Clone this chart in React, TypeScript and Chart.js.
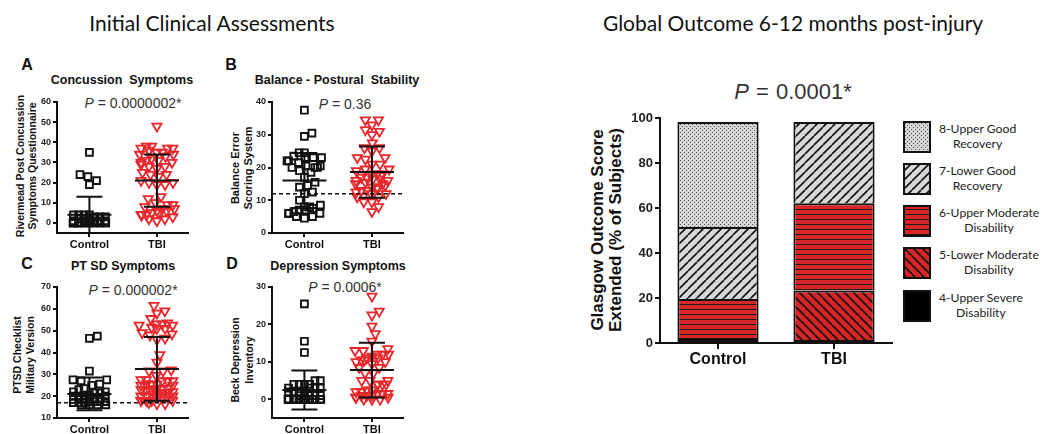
import React, { useEffect, useRef } from 'react';
import { Chart, registerables } from 'chart.js';
Chart.register(...registerables);

// ---------- DATA ----------
const groups = ['Control', 'TBI'];

// A: Concussion symptoms (Rivermead)
const concussionControl = [35, 24, 23, 21, 19, 4, 4, 4, 4, 3, 3, 3, 2, 2, 2, 1, 1, 1, 1, 1, 1, 0, 0, 0, 0, 0, 0, 0, 0, 0, 0, 0, 0, 0, 0];
const concussionTBI = [48, 38, 38, 37, 37, 37, 36, 35, 35, 34, 34, 33, 32, 31, 31, 30, 30, 29, 28, 28, 27, 25, 24, 24, 23, 21, 20, 20, 19, 19, 13, 12, 10, 9, 9, 8, 7, 7, 6, 6, 5, 5, 4, 4, 4, 3, 2, 2, 1];
const concussionMean = [4, 21];
const concussionSD = [9, 13];
const concussionTicks = [0, 10, 20, 30, 40, 50, 60];

// B: Balance error scoring system
const balanceControl = [37.5, 30.5, 29.5, 24.5, 24.5, 23.5, 23, 23, 23, 22, 22, 21.5, 20.5, 20.5, 20, 20, 20, 19, 18.5, 17, 15.5, 14.5, 14, 12.5, 12, 10, 8.5, 8, 8, 7.5, 7, 7, 6.5, 6, 6, 6, 5, 5, 4.5];
const balanceTBI = [34.5, 34.5, 33, 31.5, 31, 30, 27.5, 26, 26, 25, 23, 23, 22.5, 21, 21, 19.5, 19.5, 19, 18, 18, 18, 17.5, 17, 17, 16.5, 16, 16, 15.5, 15, 15, 14.5, 14, 14, 13.5, 13, 13, 12.5, 12, 12, 11, 11, 9.5, 9.5, 8, 6.5];
const balanceMean = [16, 18.6];
const balanceSD = [8.4, 7.8];
const balanceTicks = [0, 10, 20, 30, 40];
const balanceCutoff = 12;

// C: PTSD checklist
const ptsdControl = [47.5, 46.5, 31.5, 27.5, 27.5, 27, 25.5, 25, 23.5, 23, 22, 22, 21.5, 21.5, 20.5, 20.5, 20, 20, 20, 19, 19, 19, 18.5, 18.5, 18.5, 17.5, 17.5, 17.5, 17.5, 17, 17, 17, 17, 16, 16, 16, 16];
const ptsdTBI = [61.5, 59, 58, 55.5, 53.5, 53, 53, 52.5, 52.5, 51.5, 51, 51, 49, 48.5, 48, 46.5, 46, 39, 35.5, 32, 31.5, 31.5, 29.5, 27.5, 27.5, 27, 27, 27, 25.5, 25.5, 25.5, 25, 25, 23.5, 23.5, 23.5, 23, 23, 23, 22, 21.5, 21.5, 21.5, 21, 20, 20, 20, 19.5, 19.5, 19.5, 18, 18, 18, 18, 18, 17, 16.5, 16.5];
const ptsdMean = [21, 32.5];
const ptsdSD = [7.5, 14.6];
const ptsdTicks = [10, 20, 30, 40, 50, 60, 70];
const ptsdCutoff = 17;

// D: Beck depression inventory
const depressionControl = [25.5, 15.5, 12.5, 5, 5, 4, 4, 4, 4, 3, 3, 3, 3, 2, 2, 2, 2, 1, 1, 1, 1, 1, 0, 0, 0, 0, 0, 0, 0, 0, 0, 0, 0, 0, 0, 0];
const depressionTBI = [27.5, 23.5, 22.5, 19.5, 17.5, 15.5, 13.5, 13, 13, 12, 12, 12, 11.5, 11, 11, 10.5, 10.5, 10, 10, 9.5, 8.5, 8.5, 7, 7, 5, 5, 5, 4, 4, 4, 4, 2.5, 2.5, 2, 2, 1.5, 1.5, 1.5, 1, 1, 1, 0.5, 0.5, 0.5, 0, 0, 0];
const depressionMean = [2.5, 7.8];
const depressionSD = [5.2, 7.3];
const depressionTicks = [0, 10, 20, 30];

// Global outcome (GOS-E), % of subjects
const gosCategories = ['Control', 'TBI'];
const gos4UpperSevere = [0, 0];
const gos5LowerModerate = [2.2, 23.3];
const gos6UpperModerate = [17.4, 38.8];
const gos7LowerGood = [32, 36.1];
const gos8UpperGood = [46.6, 0];
const gosTicks = [0, 20, 40, 60, 80, 100];
const gosLegend = [
  ['8-Upper Good', 'Recovery'],
  ['7-Lower Good', 'Recovery'],
  ['6-Upper Moderate', 'Disability'],
  ['5-Lower Moderate', 'Disability'],
  ['4-Upper Severe', 'Disability'],
];

// ---------- STYLE ----------
const ARIAL = '"Liberation Sans", Arial, sans-serif';
const CAL = 'Lato, "Open Sans", sans-serif';
const INK = '#111';
const RED = '#e8262b';
const BAR_RED = '#d82628';

function makeTile(kind: string): HTMLCanvasElement {
  const c = document.createElement('canvas');
  const ctx = c.getContext('2d')!;
  if (kind === 'dots') {
    c.width = 4; c.height = 4;
    ctx.fillStyle = '#d4d4d4'; ctx.fillRect(0, 0, 4, 4);
    ctx.fillStyle = '#555'; ctx.fillRect(0, 0, 1, 1); ctx.fillRect(2, 2, 1, 1);
  } else if (kind === 'fwd' || kind === 'back') {
    const s = 9;
    c.width = s; c.height = s;
    ctx.fillStyle = kind === 'fwd' ? '#d8d8d8' : BAR_RED; ctx.fillRect(0, 0, s, s);
    ctx.strokeStyle = '#111'; ctx.lineWidth = 1.6;
    ctx.beginPath();
    for (const off of [-s, 0, s]) {
      if (kind === 'fwd') { ctx.moveTo(off, s); ctx.lineTo(off + s, 0); }
      else { ctx.moveTo(off, 0); ctx.lineTo(off + s, s); }
    }
    ctx.stroke();
  } else if (kind === 'horiz') {
    c.width = 4; c.height = 5;
    ctx.fillStyle = BAR_RED; ctx.fillRect(0, 0, 4, 5);
    ctx.fillStyle = '#1a1a1a'; ctx.fillRect(0, 4, 4, 1.2);
  } else {
    c.width = 2; c.height = 2;
    ctx.fillStyle = '#000'; ctx.fillRect(0, 0, 2, 2);
  }
  return c;
}

function swarm(values: number[], yPix: (v: number) => number, d: number, maxW: number): number[] {
  const order = values.map((_, i) => i).sort((a, b) => values[a] - values[b]);
  const placed: { x: number; y: number }[] = [];
  const out = new Array(values.length).fill(0);
  let overflow = 0;
  for (const i of order) {
    const y = yPix(values[i]);
    const cands = [0];
    for (const p of placed) {
      const dy = Math.abs(p.y - y);
      if (dy < d) {
        const dx = Math.sqrt(d * d - dy * dy);
        cands.push(p.x + dx, p.x - dx);
      }
    }
    cands.sort((a, b) => Math.abs(a) - Math.abs(b));
    let chosen: number | null = null;
    for (const c of cands) {
      if (Math.abs(c) > maxW) break;
      if (placed.every((p) => (p.x - c) ** 2 + (p.y - y) ** 2 >= d * d - 0.01)) { chosen = c; break; }
    }
    if (chosen === null) {
      chosen = ((overflow % 7) - 3) * (maxW / 3.4);
      overflow++;
    }
    placed.push({ x: chosen, y });
    out[i] = chosen;
  }
  return out;
}

type DotProps = {
  left: number; top: number; width: number; height: number;
  plotLeft: number; plotTop: number; plotRight: number; plotBottom: number;
  control: number[]; tbi: number[]; mean: number[]; sd: number[];
  yMin: number; yMax: number; yTicks: number[]; refLine?: number;
};

function DotPlot(p: DotProps) {
  const ref = useRef<HTMLCanvasElement>(null);
  useEffect(() => {
    const canvas = ref.current!;
    const padTop = p.plotTop - p.top;
    const yW = p.plotLeft - p.left;
    const padRight = p.left + p.width - p.plotRight;
    const xH = p.top + p.height - p.plotBottom;
    const overlay = {
      id: 'meanSd',
      afterDatasetsDraw(chart: any) {
        const { ctx, chartArea, scales } = chart;
        const xs = scales.x, ys = scales.y;
        ctx.save();
        if (p.refLine !== undefined) {
          ctx.strokeStyle = INK; ctx.lineWidth = 1.5; ctx.setLineDash([4, 3]);
          const y = ys.getPixelForValue(p.refLine);
          ctx.beginPath(); ctx.moveTo(chartArea.left, y); ctx.lineTo(chartArea.right, y); ctx.stroke();
          ctx.setLineDash([]);
        }
        ctx.strokeStyle = INK; ctx.lineWidth = 2;
        p.mean.forEach((m, i) => {
          const cx = xs.getPixelForValue(i + 1);
          const ym = ys.getPixelForValue(m);
          const yu = ys.getPixelForValue(m + p.sd[i]);
          const yl = ys.getPixelForValue(m - p.sd[i]);
          ctx.beginPath();
          ctx.moveTo(cx - 22, ym); ctx.lineTo(cx + 22, ym);
          ctx.moveTo(cx - 13, yu); ctx.lineTo(cx + 13, yu);
          ctx.moveTo(cx - 13, yl); ctx.lineTo(cx + 13, yl);
          ctx.moveTo(cx, yu); ctx.lineTo(cx, yl);
          ctx.stroke();
        });
        ctx.restore();
      },
    };
    const tickFont = { family: ARIAL, size: 9, weight: 'bold' as const };
    const chart = new Chart(canvas, {
      type: 'scatter',
      data: {
        datasets: [
          { data: p.control.map((v) => ({ x: 1, y: v })), pointStyle: 'rect', pointRadius: 4.8, borderColor: INK, backgroundColor: 'rgba(0,0,0,0)', borderWidth: 1.9, pointBorderWidth: 1.9 },
          { data: p.tbi.map((v) => ({ x: 2, y: v })), pointStyle: 'triangle', pointRotation: 180, pointRadius: 5.3, borderColor: RED, backgroundColor: 'rgba(255,255,255,0)', borderWidth: 1.8, pointBorderWidth: 1.8 },
        ],
      },
      options: {
        animation: false, responsive: false, events: [],
        layout: { padding: { top: padTop, right: padRight, left: 0, bottom: 0 } },
        plugins: { legend: { display: false }, tooltip: { enabled: false } },
        scales: {
          x: {
            type: 'linear', min: 0.52, max: 2.46,
            afterBuildTicks: (s: any) => { s.ticks = [{ value: 1 }, { value: 2 }]; },
            afterFit: (s: any) => { s.height = xH; },
            ticks: { callback: (v: any) => groups[Number(v) - 1] ?? '', font: { family: ARIAL, size: 11, weight: 'bold' }, color: INK, padding: 1, maxRotation: 0, autoSkip: false },
            grid: { display: true, drawOnChartArea: false, drawTicks: true, tickLength: 4, color: INK, lineWidth: 2 },
            border: { display: true, color: INK, width: 2 },
          },
          y: {
            type: 'linear', min: p.yMin, max: p.yMax,
            afterBuildTicks: (s: any) => { s.ticks = p.yTicks.map((v) => ({ value: v })); },
            afterFit: (s: any) => { s.width = yW; },
            ticks: { font: tickFont, color: '#222', padding: 2 },
            grid: { display: true, drawOnChartArea: false, drawTicks: true, tickLength: 4, color: INK, lineWidth: 2 },
            border: { display: true, color: INK, width: 2 },
          },
        },
      },
      plugins: [overlay],
    } as any);
    const xs: any = chart.scales.x, ys: any = chart.scales.y;
    const pxPerX = xs.getPixelForValue(2) - xs.getPixelForValue(1);
    [p.control, p.tbi].forEach((vals, i) => {
      const offs = swarm(vals, (v) => ys.getPixelForValue(v), 8.2, 18);
      (chart.data.datasets[i] as any).data = vals.map((v, j) => ({ x: i + 1 + offs[j] / pxPerX, y: v }));
    });
    chart.update();
    return () => chart.destroy();
  }, []);
  return <canvas ref={ref} width={p.width} height={p.height} style={{ position: 'absolute', left: p.left, top: p.top, width: p.width, height: p.height }} />;
}

function GosChart() {
  const ref = useRef<HTMLCanvasElement>(null);
  useEffect(() => {
    const canvas = ref.current!;
    const ctx = canvas.getContext('2d')!;
    const pat = (k: string) => ctx.createPattern(makeTile(k), 'repeat');
    const left = 580, top = 100, width = 320, height = 272;
    const plotLeft = 660, plotTop = 118, plotRight = 892, plotBottom = 343;
    const series = [
      { label: '4-Upper Severe Disability', data: gos4UpperSevere, kind: 'solid' },
      { label: '5-Lower Moderate Disability', data: gos5LowerModerate, kind: 'back' },
      { label: '6-Upper Moderate Disability', data: gos6UpperModerate, kind: 'horiz' },
      { label: '7-Lower Good Recovery', data: gos7LowerGood, kind: 'fwd' },
      { label: '8-Upper Good Recovery', data: gos8UpperGood, kind: 'dots' },
    ];
    const segBorder = (c: any) => {
      if (!c.raw) return 0;
      const ds = c.chart.data.datasets;
      const i = c.datasetIndex, j = c.dataIndex;
      const isBottom = !ds.slice(0, i).some((d: any) => d.data[j]);
      return { top: 2, bottom: isBottom ? 2 : 0, left: 2, right: 2 };
    };
    const chart = new Chart(canvas, {
      type: 'bar',
      data: {
        labels: gosCategories,
        datasets: series.map((s) => ({
          label: s.label, data: s.data, backgroundColor: pat(s.kind), borderColor: INK,
          borderWidth: segBorder, borderSkipped: false,
          barPercentage: 0.7, categoryPercentage: 1.0,
        })),
      },
      options: {
        animation: false, responsive: false, events: [],
        layout: { padding: { top: plotTop - top, right: left + width - plotRight, left: 0, bottom: 0 } },
        plugins: { legend: { display: false }, tooltip: { enabled: false } },
        scales: {
          x: {
            stacked: true,
            afterFit: (s: any) => { s.height = top + height - plotBottom; },
            ticks: { font: { family: ARIAL, size: 16, weight: 'bold' }, color: INK, padding: 1 },
            grid: { display: true, offset: false, drawOnChartArea: false, drawTicks: true, tickLength: 6, color: INK, lineWidth: 2 },
            border: { display: true, color: INK, width: 2 },
          },
          y: {
            stacked: true, min: 0, max: 100,
            afterBuildTicks: (s: any) => { s.ticks = gosTicks.map((v) => ({ value: v })); },
            afterFit: (s: any) => { s.width = plotLeft - left; },
            ticks: { font: { family: ARIAL, size: 13, weight: 'bold' }, color: '#222', padding: 2 },
            grid: { display: true, drawOnChartArea: false, drawTicks: true, tickLength: 5, color: INK, lineWidth: 2 },
            border: { display: true, color: INK, width: 2 },
          },
        },
      },
    } as any);
    return () => chart.destroy();
  }, []);
  return <canvas ref={ref} width={320} height={272} style={{ position: 'absolute', left: 580, top: 100, width: 320, height: 272 }} />;
}

function Swatch({ kind, x, y }: { kind: string; x: number; y: number }) {
  const ref = useRef<HTMLCanvasElement>(null);
  const w = 28, h = 32;
  useEffect(() => {
    const c = ref.current!;
    const ctx = c.getContext('2d')!;
    ctx.clearRect(0, 0, w, h);
    ctx.fillStyle = ctx.createPattern(makeTile(kind), 'repeat')!;
    ctx.fillRect(1, 1, w - 2, h - 2);
    ctx.strokeStyle = INK; ctx.lineWidth = 2;
    ctx.strokeRect(1, 1, w - 2, h - 2);
  }, []);
  return <canvas ref={ref} width={w} height={h} style={{ position: 'absolute', left: x, top: y, width: w, height: h }} />;
}

type TProps = { x: number; y: number; size: number; bold?: boolean; rotate?: boolean; family?: string; color?: string; children: React.ReactNode; spacing?: number };
function T({ x, y, size, bold, rotate, family, color, children, spacing }: TProps) {
  return (
    <div style={{
      position: 'absolute', left: x, top: y, transform: `translate(-50%,-50%)${rotate ? ' rotate(-90deg)' : ''}`,
      fontSize: size, fontWeight: bold ? 700 : 400, fontFamily: family ?? ARIAL, color: color ?? INK,
      whiteSpace: 'pre', lineHeight: 1, wordSpacing: spacing ?? 0,
    }}>{children}</div>
  );
}

function PText({ x, y, size, value, spacing }: { x: number; y: number; size: number; value: string; spacing?: number }) {
  return (
    <T x={x} y={y} size={size} color="#333" spacing={spacing ?? 0}>
      <i>P</i> = {value}
    </T>
  );
}

export default function App() {
  const legendKinds = ['dots', 'fwd', 'horiz', 'back', 'solid'];
  const legendTops = [121, 163, 205, 247, 290];
  return (
    <div style={{ position: 'absolute', left: 0, top: 0, width: 1063, height: 434, background: '#fff', overflow: 'hidden' }}>
      <T x={212} y={22} size={21} family={CAL}>Initial Clinical Assessments</T>
      <T x={793} y={22} size={21} family={CAL}>Global Outcome 6-12 months post-injury</T>

      {/* Panel letters and titles */}
      <T x={27} y={65} size={16} bold>A</T>
      <T x={122} y={80} size={12.5} bold>{'Concussion  Symptoms'}</T>
      <PText x={133} y={103} size={14} value="0.0000002*" />
      <T x={231} y={65} size={16} bold>B</T>
      <T x={337} y={80} size={12.5} bold>{'Balance - Postural  Stability'}</T>
      <PText x={345} y={104} size={14} value="0.36" />
      <T x={27} y={264} size={16} bold>C</T>
      <T x={123} y={266} size={12.5} bold>PT SD Symptoms</T>
      <PText x={133} y={290} size={14} value="0.000002*" />
      <T x={232} y={264} size={16} bold>D</T>
      <T x={338} y={266} size={12.5} bold>Depression Symptoms</T>
      <PText x={345} y={287} size={14} value="0.0006*" />

      {/* Y axis titles */}
      <T x={20} y={166} size={10.5} bold rotate>Rivermead Post Concussion</T>
      <T x={32} y={166} size={10.5} bold rotate>Symptoms Questionnaire</T>
      <T x={235} y={168} size={11} bold rotate>Balance Error</T>
      <T x={248} y={168} size={11} bold rotate>Scoring System</T>
      <T x={17} y={355} size={10.5} bold rotate>PTSD Checklist</T>
      <T x={30} y={355} size={10.5} bold rotate>Military Version</T>
      <T x={235} y={360} size={10.5} bold rotate>Beck Depression</T>
      <T x={249} y={360} size={10.5} bold rotate>Inventory</T>

      <DotPlot left={0} top={92} width={200} height={165} plotLeft={57} plotTop={102} plotRight={188} plotBottom={233}
        control={concussionControl} tbi={concussionTBI} mean={concussionMean} sd={concussionSD} yMin={-5} yMax={60} yTicks={concussionTicks} />
      <DotPlot left={215} top={92} width={200} height={165} plotLeft={272} plotTop={102} plotRight={403} plotBottom={233}
        control={balanceControl} tbi={balanceTBI} mean={balanceMean} sd={balanceSD} yMin={0} yMax={40} yTicks={balanceTicks} refLine={balanceCutoff} />
      <DotPlot left={0} top={277} width={200} height={157} plotLeft={57} plotTop={287} plotRight={188} plotBottom={418}
        control={ptsdControl} tbi={ptsdTBI} mean={ptsdMean} sd={ptsdSD} yMin={10} yMax={70} yTicks={ptsdTicks} refLine={ptsdCutoff} />
      <DotPlot left={215} top={277} width={200} height={157} plotLeft={272} plotTop={287} plotRight={403} plotBottom={418}
        control={depressionControl} tbi={depressionTBI} mean={depressionMean} sd={depressionSD} yMin={-5} yMax={30} yTicks={depressionTicks} />

      {/* Global outcome */}
      <PText x={793} y={92} size={22} value="0.0001*" spacing={1} />
      <T x={597} y={230} size={17} bold rotate>Glasgow Outcome Score</T>
      <T x={615} y={230} size={17} bold rotate>Extended (% of Subjects)</T>
      <GosChart />

      {gosLegend.map((lines, i) => (
        <React.Fragment key={i}>
          <Swatch kind={legendKinds[i]} x={903} y={legendTops[i]} />
          <div style={{ position: 'absolute', left: 939, top: legendTops[i], fontFamily: CAL, fontSize: 12.2, lineHeight: '15px', color: '#222', textAlign: 'center', whiteSpace: 'nowrap' }}>
            {lines[0]}<br />{lines[1]}
          </div>
        </React.Fragment>
      ))}
    </div>
  );
}
